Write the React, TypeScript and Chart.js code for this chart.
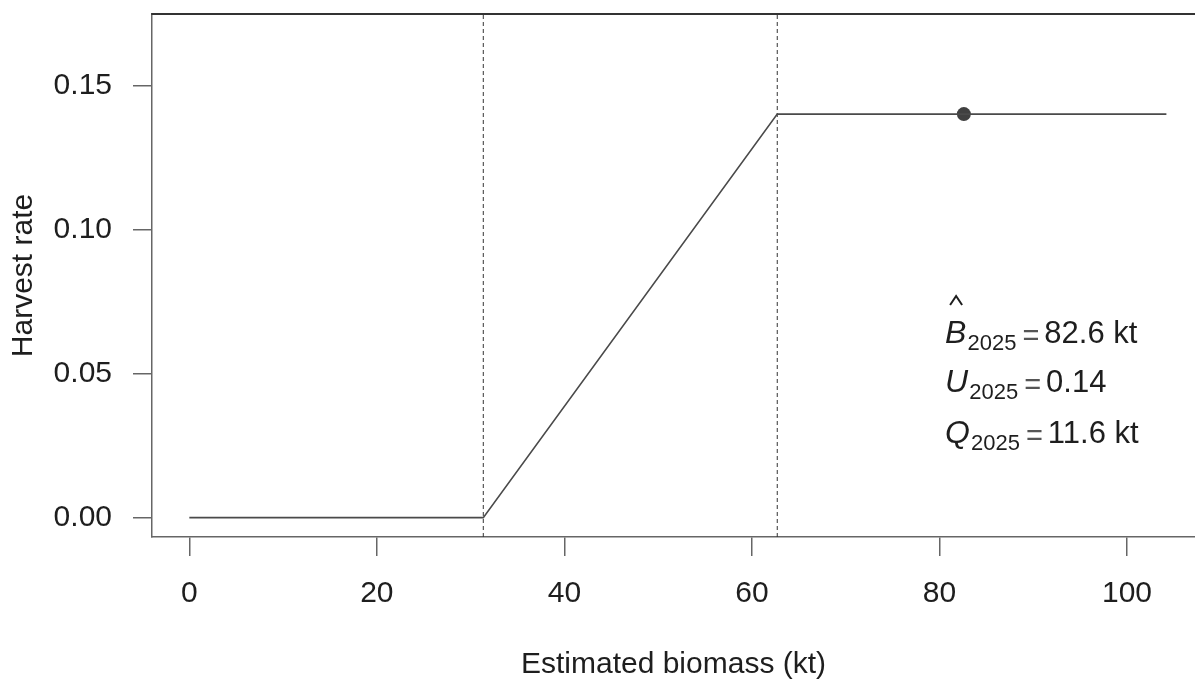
import React, { useEffect, useRef } from "react";
import { Chart, registerables } from "chart.js";

Chart.register(...registerables);

// ---- data ----
const curveBiomass = [0, 31.35, 62.7, 104.2];
const curveRate = [0, 0, 0.14, 0.14];
const referenceBiomass = [31.35, 62.7];
const currentBiomass = [82.6];
const currentRate = [0.14];
const xTickValues = [0, 20, 40, 60, 80, 100];
const yTickValues = [0, 0.05, 0.1, 0.15];
const annotationSymbols = ["B", "U", "Q"];
const annotationHats = [true, false, false];
const annotationSubscripts = ["2025", "2025", "2025"];
const annotationValues = ["82.6 kt", "0.14", "11.6 kt"];

const X_MIN = -3.98;
const X_MAX = 107.25;
const Y_MIN = -0.00672;
const Y_MAX = 0.17472;

const FONT = "'Liberation Sans', Arial, Helvetica, sans-serif";
const TEXT = "#1e1e1e";
const AXIS = "#666666";

// annotation anchor (data coordinates)
const ANN_X = 80.6;
const ANN_Y = [0.0606, 0.0436, 0.0259];

const framePlugin = {
  id: "frame",
  afterDraw(chart: any) {
    const { ctx, chartArea } = chart;
    ctx.save();
    ctx.strokeStyle = "#333333";
    ctx.lineWidth = 2;
    ctx.beginPath();
    ctx.moveTo(chartArea.left - 0.75, chartArea.top);
    ctx.lineTo(chartArea.right, chartArea.top);
    ctx.stroke();
    ctx.restore();
  },
};

const annotationPlugin = {
  id: "annotationText",
  afterDatasetsDraw(chart: any) {
    const { ctx } = chart;
    const xs = chart.scales.x;
    const ys = chart.scales.y;
    const x0 = xs.getPixelForValue(ANN_X);
    ctx.save();
    ctx.textBaseline = "alphabetic";
    ctx.textAlign = "left";
    annotationSymbols.forEach((sym, i) => {
      const y = ys.getPixelForValue(ANN_Y[i]);
      let x = x0;
      ctx.fillStyle = TEXT;
      ctx.font = `italic 32px ${FONT}`;
      ctx.fillText(sym, x, y);
      const w = ctx.measureText(sym).width;
      if (annotationHats[i]) {
        ctx.strokeStyle = TEXT;
        ctx.lineWidth = 2;
        ctx.beginPath();
        ctx.moveTo(x + 5, y - 38);
        ctx.lineTo(x + 11, y - 47);
        ctx.lineTo(x + 17, y - 38);
        ctx.stroke();
      }
      x += w + 1;
      ctx.font = `22px ${FONT}`;
      ctx.fillText(annotationSubscripts[i], x, y + 7);
      x += ctx.measureText(annotationSubscripts[i]).width + 6;
      ctx.fillStyle = "#555555";
      ctx.font = `29px ${FONT}`;
      ctx.fillText("=", x, y + 2);
      x += ctx.measureText("=").width + 5;
      ctx.fillStyle = TEXT;
      ctx.font = `31px ${FONT}`;
      ctx.fillText(annotationValues[i], x, y);
    });
    ctx.restore();
  },
};

export default function App() {
  const canvasRef = useRef<HTMLCanvasElement | null>(null);

  useEffect(() => {
    const canvas = canvasRef.current;
    if (!canvas) return;
    const datasets: any[] = [
      {
        type: "line",
        data: curveBiomass.map((x, i) => ({ x, y: curveRate[i] })),
        borderColor: "#4a4a4a",
        borderWidth: 1.6,
        pointRadius: 0,
        tension: 0,
        fill: false,
      },
      ...referenceBiomass.map((b) => ({
        type: "line",
        data: [
          { x: b, y: Y_MIN },
          { x: b, y: Y_MAX },
        ],
        borderColor: "#333333",
        borderWidth: 1,
        borderDash: [4, 3],
        pointRadius: 0,
        fill: false,
      })),
      {
        type: "scatter",
        data: currentBiomass.map((x, i) => ({ x, y: currentRate[i] })),
        pointRadius: 7,
        pointHoverRadius: 7,
        backgroundColor: "#404040",
        borderColor: "#404040",
        borderWidth: 0,
      },
    ];

    const chart = new Chart(canvas, {
      type: "scatter",
      data: { datasets },
      options: {
        responsive: false,
        animation: false,
        events: [],
        layout: { autoPadding: false, padding: { top: 14, right: 0, left: 0, bottom: 0 } },
        plugins: {
          legend: { display: false },
          tooltip: { enabled: false },
        },
        scales: {
          x: {
            type: "linear",
            position: "bottom",
            min: X_MIN,
            max: X_MAX,
            afterFit: (s: any) => {
              s.height = 144;
              s.paddingLeft = 0;
              s.paddingRight = 0;
            },
            afterBuildTicks: (s: any) => {
              s.ticks = xTickValues.map((v) => ({ value: v }));
            },
            grid: {
              display: true,
              drawOnChartArea: false,
              drawTicks: true,
              tickLength: 19,
              color: AXIS,
              lineWidth: 1.5,
            },
            border: { display: true, color: AXIS, width: 1.5 },
            ticks: {
              font: { family: FONT, size: 30 },
              color: TEXT,
              padding: 20,
              maxRotation: 0,
              autoSkip: false,
              callback: (v: any) => String(v),
            },
            title: {
              display: true,
              text: "Estimated biomass (kt)",
              font: { family: FONT, size: 30, lineHeight: 1 },
              color: TEXT,
              padding: { top: 0, bottom: 1 },
            },
          },
          y: {
            type: "linear",
            min: Y_MIN,
            max: Y_MAX,
            afterFit: (s: any) => {
              s.width = 152;
              s.paddingTop = 0;
              s.paddingBottom = 0;
            },
            afterBuildTicks: (s: any) => {
              s.ticks = yTickValues.map((v) => ({ value: v }));
            },
            grid: {
              display: true,
              drawOnChartArea: false,
              drawTicks: true,
              tickLength: 19,
              color: AXIS,
              lineWidth: 1.5,
            },
            border: { display: true, color: AXIS, width: 1.5 },
            ticks: {
              font: { family: FONT, size: 30 },
              color: TEXT,
              padding: 21,
              autoSkip: false,
              callback: (v: any) => Number(v).toFixed(2),
            },
            title: {
              display: true,
              text: "Harvest rate",
              font: { family: FONT, size: 30, lineHeight: 1 },
              color: TEXT,
              padding: { top: 9, bottom: 0 },
            },
          },
        },
      },
      plugins: [framePlugin, annotationPlugin],
    } as any);

    return () => chart.destroy();
  }, []);

  return (
    <div style={{ position: "absolute", left: 0, top: 0, width: 1195, height: 681, background: "#fff" }}>
      <canvas ref={canvasRef} width={1195} height={681} style={{ display: "block" }} />
    </div>
  );
}
